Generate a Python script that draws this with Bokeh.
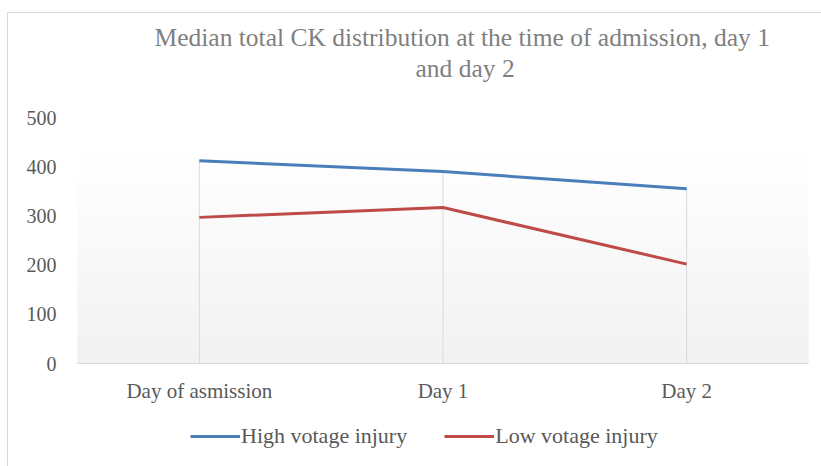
from bokeh.plotting import figure
from bokeh.models import (Title, Legend, LegendItem, BoxAnnotation, FactorRange,
                          Range1d, FixedTicker)
from bokeh.embed import file_html
from bokeh.resources import INLINE

categories = ["Day of asmission", "Day 1", "Day 2"]
high_voltage = [412, 390, 355]
low_voltage = [297, 317, 202]
y_ticks = [0, 100, 200, 300, 400, 500]
series_names = ["High votage injury", "Low votage injury"]
title_line_1 = "Median total CK distribution at the time of admission, day 1"
title_line_2 = "and day 2"

SERIF = "Liberation Serif"
GRAY_TEXT = "#595959"

# layout: value 0..500 spans 246 px; frame runs from FRAME_TOP px to the bottom
W, H = 821, 466
FRAME_TOP = 84
ZERO_PX, TOP_TICK_PX = 363, 117
units_per_px = (y_ticks[-1] - y_ticks[0]) / (ZERO_PX - TOP_TICK_PX)
Y_MAX = y_ticks[-1] + (TOP_TICK_PX - FRAME_TOP) * units_per_px
Y_MIN = -(H - ZERO_PX) * units_per_px

p = figure(width=W, height=H,
           x_range=FactorRange(*categories, range_padding=0),
           y_range=Range1d(Y_MIN, Y_MAX),
           output_backend="svg", toolbar_location=None,
           min_border_left=77, min_border_right=13,
           min_border_top=FRAME_TOP, min_border_bottom=0)

p.background_fill_color = "white"
p.border_fill_alpha = 0
p.styles = {"background": "linear-gradient(#d9d9d9, #d9d9d9) 7px 12px / 1px 100% no-repeat, "
                          "linear-gradient(#d9d9d9, #d9d9d9) 7px 12px / 100% 1px no-repeat, white"}
p.outline_line_color = None
p.xgrid.visible = False
p.ygrid.visible = False

# plot-area gradient (light gray at the bottom to white near the top)
grad_top = 447
n = 40
for i in reversed(range(n)):
    t = grad_top * (i + 1) / n
    frac = (i + 0.5) / n
    c = int(round(242 + (255 - 242) * frac))
    p.add_layout(BoxAnnotation(bottom=0, top=t, fill_color=f"#{c:02x}{c:02x}{c:02x}",
                               fill_alpha=1, line_color=None, level="underlay"))

# drop lines
drop_top = [max(h, l) for h, l in zip(high_voltage, low_voltage)]
p.segment(x0=categories, y0=[0] * len(categories), x1=categories, y1=drop_top,
          line_color="#d9d9d9", line_width=1)

r_high = p.line(categories, high_voltage, line_color="#4A7EBB", line_width=3)
r_low = p.line(categories, low_voltage, line_color="#BE4B48", line_width=3)

# axes
p.xaxis.fixed_location = 0
p.xaxis.axis_line_color = "#d9d9d9"
p.xaxis.major_tick_line_color = None
p.xaxis.minor_tick_line_color = None
p.xaxis.major_tick_out = 0
p.xaxis.major_tick_in = 0
p.xaxis.major_label_text_font = SERIF
p.xaxis.major_label_text_font_size = "21px"
p.xaxis.major_label_text_color = GRAY_TEXT
p.xaxis.major_label_standoff = 15

p.yaxis.ticker = FixedTicker(ticks=y_ticks)
p.yaxis.axis_line_color = None
p.yaxis.major_tick_line_color = None
p.yaxis.minor_tick_line_color = None
p.yaxis.major_tick_out = 0
p.yaxis.major_tick_in = 0
p.yaxis.major_label_text_font = SERIF
p.yaxis.major_label_text_font_size = "20px"
p.yaxis.major_label_text_color = GRAY_TEXT
p.yaxis.major_label_standoff = 21

# title (two lines)
p.title = Title(text=title_line_1, align="left", offset=77, text_font=SERIF,
                text_font_size="25.5px", text_font_style="normal", text_color="#7f7f7f",
                standoff=-4)
p.add_layout(Title(text=title_line_2, align="left", offset=338, text_font=SERIF,
                   text_font_size="25.5px", text_font_style="normal", text_color="#7f7f7f",
                   standoff=4), "above")

legend = Legend(items=[LegendItem(label=series_names[0], renderers=[r_high]),
                       LegendItem(label=series_names[1], renderers=[r_low])],
                orientation="horizontal", location=(113, 17),
                border_line_color=None, background_fill_alpha=0,
                label_text_font=SERIF, label_text_font_size="22px",
                label_text_color=GRAY_TEXT, glyph_width=50, label_standoff=1,
                spacing=37, padding=0, margin=0)
p.add_layout(legend, "center")

open("out.html", "w").write(file_html(p, INLINE))
